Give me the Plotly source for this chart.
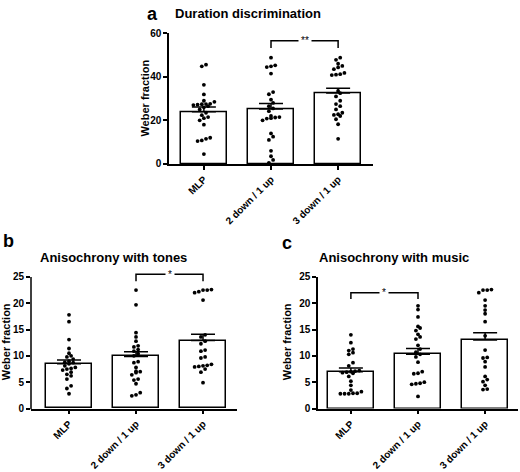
import plotly.graph_objects as go

# ---------------- data ----------------
categories = ["MLP", "2 down / 1 up", "3 down / 1 up"]

# Panel a: Duration discrimination
dur_mlp = [45.6, 44.8, 36.3, 31.9, 29.0, 28.5, 27.6, 27.5, 27.4, 27.2, 27.0, 26.5, 26.0,
           25.0, 23.5, 22.4, 21.5, 21.0, 20.0, 18.0, 12.0, 11.5, 10.8, 10.5, 4.5]
dur_2d = [48.8, 45.3, 44.8, 44.5, 41.5, 33.0, 32.0, 29.5, 28.0, 26.5, 25.5, 24.2, 22.0,
          21.5, 21.3, 21.0, 20.8, 20.0, 14.0, 12.5, 11.0, 6.0, 3.5, 1.8, 0.5]
dur_3d = [48.8, 47.8, 46.0, 45.0, 44.3, 43.5, 41.8, 41.2, 41.0, 40.8, 33.5, 32.5, 31.0,
          29.0, 27.5, 26.5, 25.0, 23.5, 22.8, 22.5, 22.0, 20.5, 18.2, 11.5]
dur_mean = [23.9, 25.2, 32.6]
dur_sem = [2.2, 2.6, 2.1]
dur_sig = {"from": 1, "to": 2, "level": 56.6, "drop": 3.4, "label": "**"}

# Panel b: Anisochrony with tones
ton_mlp = [17.8, 16.5, 13.1, 11.4, 10.5, 10.0, 9.8, 9.4, 9.0, 8.8, 8.7, 8.5, 8.1, 7.8,
           7.6, 7.5, 7.3, 6.9, 6.5, 6.2, 5.6, 4.3, 3.8, 2.8]
ton_2d = [22.5, 19.7, 14.4, 13.6, 12.8, 11.9, 11.7, 11.2, 10.9, 10.4, 10.0, 8.9, 8.7,
          7.8, 7.1, 7.0, 6.8, 6.4, 5.6, 5.4, 4.7, 3.0, 2.6, 2.4]
ton_3d = [22.6, 22.5, 22.5, 22.2, 22.0, 20.6, 14.0, 13.6, 12.8, 12.3, 11.1, 10.9, 9.8,
          9.6, 8.4, 8.2, 8.1, 8.0, 7.9, 7.5, 6.9, 4.9]
ton_mean = [8.5, 9.9, 12.9]
ton_sem = [0.7, 0.9, 1.2]
ton_sig = {"from": 1, "to": 2, "level": 25.5, "drop": 1.3, "label": "*"}

# Panel c: Anisochrony with music
mus_mlp = [14.0, 12.5, 11.3, 11.0, 10.6, 10.3, 8.7, 8.1, 7.2, 7.1, 7.0, 6.9, 6.8, 6.7,
           6.1, 5.2, 4.4, 3.5, 3.2, 2.9, 2.9, 2.8, 2.8, 2.8]
mus_2d = [19.5, 18.8, 17.4, 15.6, 15.3, 14.8, 14.1, 13.6, 13.2, 12.0, 11.3, 10.7, 10.3,
          9.8, 8.8, 7.0, 6.7, 6.6, 5.0, 4.8, 4.7, 4.6, 2.3]
mus_3d = [22.6, 22.5, 22.5, 22.0, 20.6, 19.5, 18.7, 18.0, 16.5, 13.8, 11.1, 9.7, 9.6,
          8.9, 7.9, 6.1, 5.5, 5.1, 4.4, 3.7, 3.6]
mus_mean = [7.0, 10.3, 13.0]
mus_sem = [0.7, 1.1, 1.4]
mus_sig = {"from": 0, "to": 1, "level": 22.0, "drop": 1.2, "label": "*"}

yticks_a = [0, 20, 40, 60]
yticks_bc = [0, 5, 10, 15, 20, 25]

# ---------------- layout constants ----------------
W, H = 520, 472
FONT = "Arial, Liberation Sans, sans-serif"
PX_PER_CAT = 67.0
DOT = 4.2


def swarm_offsets(values, px_per_unit):
    """Prism-like row swarm: points in the same row are spread symmetrically."""
    order = sorted(range(len(values)), key=lambda i: values[i])
    offs = [0.0] * len(values)
    rows = []
    for i in order:
        if rows and (values[i] - values[rows[-1][0]]) * px_per_unit < DOT * 0.8:
            rows[-1].append(i)
        else:
            rows.append([i])
    for row in rows:
        n = len(row)
        for k, i in enumerate(row):
            offs[i] = (k - (n - 1) / 2) * DOT / PX_PER_CAT
    return offs


fig = go.Figure()


def add_panel(n, groups, means, sems, sig, px_per_unit):
    xa = "x" if n == 1 else f"x{n}"
    ya = "y" if n == 1 else f"y{n}"
    fig.add_trace(go.Bar(
        x=[0, 1, 2], y=means, width=0.68, xaxis=xa, yaxis=ya,
        marker=dict(color="white", line=dict(color="black", width=1.5)),
        error_y=dict(type="data", array=sems, arrayminus=[0, 0, 0], symmetric=False,
                     color="black", thickness=1.5, width=12),
        showlegend=False, hoverinfo="skip"))
    for gi, vals in enumerate(groups):
        offs = swarm_offsets(vals, px_per_unit)
        fig.add_trace(go.Scatter(
            x=[gi + o for o in offs], y=vals, mode="markers", xaxis=xa, yaxis=ya,
            marker=dict(color="black", size=3.8), cliponaxis=False,
            showlegend=False, hoverinfo="skip"))
    a, b, lv, dr = sig["from"], sig["to"], sig["level"], sig["drop"]
    fig.add_trace(go.Scatter(
        x=[a, a, b, b], y=[lv - dr, lv, lv, lv - dr], mode="lines", xaxis=xa, yaxis=ya,
        line=dict(color="black", width=1.5), showlegend=False, hoverinfo="skip"))
    fig.add_annotation(x=(a + b) / 2, y=lv, xref=xa, yref=ya, text=sig["label"],
                       showarrow=False, bgcolor="white", borderpad=2,
                       font=dict(size=10, family=FONT, color="black"))


add_panel(1, [dur_mlp, dur_2d, dur_3d], dur_mean, dur_sem, dur_sig, 134 / 60)
add_panel(2, [ton_mlp, ton_2d, ton_3d], ton_mean, ton_sem, ton_sig, 135 / 25)
add_panel(3, [mus_mlp, mus_2d, mus_3d], mus_mean, mus_sem, mus_sig, 135 / 25)


def px_x(p):
    return p / W


def px_y(p):
    return 1 - p / H


xcommon = dict(tickvals=[0, 1, 2], ticktext=categories, tickangle=-45,
               showline=True, linewidth=1.5, linecolor="black", ticks="outside",
               ticklen=4, tickwidth=1.5, tickcolor="black", showgrid=False,
               zeroline=False, fixedrange=True,
               tickfont=dict(size=10, family=FONT, color="black", weight="bold"))
ycommon = dict(showline=True, linewidth=1.5, linecolor="black", ticks="outside",
               ticklen=4, tickwidth=1.5, tickcolor="black", showgrid=False,
               zeroline=False, fixedrange=True,
               tickfont=dict(size=10, family=FONT, color="black", weight="bold"))

# panel b range extended above 25 so the bracket shows; axis line drawn as shape
b_top = 26.3
b_top_px = 413 - b_top * 135 / 25

fig.update_layout(
    width=W, height=H, margin=dict(l=0, r=0, t=0, b=0),
    paper_bgcolor="white", plot_bgcolor="white",
    font=dict(family=FONT, color="black"),
    bargap=0,
    xaxis=dict(xcommon, domain=[px_x(169), px_x(373)], range=[-0.52, 2.52], anchor="y"),
    yaxis=dict(ycommon, domain=[px_y(162), px_y(28)], range=[0, 60], tickvals=yticks_a,
               anchor="x"),
    xaxis2=dict(xcommon, domain=[px_x(31), px_x(237)], range=[-0.567, 2.507], anchor="y2"),
    yaxis2=dict(ycommon, domain=[px_y(413), px_y(b_top_px)], range=[0, b_top],
                tickvals=yticks_bc, anchor="x2", showline=False),
    xaxis3=dict(xcommon, domain=[px_x(318), px_x(518)], range=[-0.49, 2.49], anchor="y3"),
    yaxis3=dict(ycommon, domain=[px_y(413), px_y(278)], range=[0, 25], tickvals=yticks_bc,
                anchor="x3"),
)

# y axis line of panel b (from 0 to 25 only)
fig.add_shape(type="line", xref="paper", yref="paper",
              x0=px_x(31), x1=px_x(31), y0=px_y(413.7), y1=px_y(278),
              line=dict(color="black", width=1.5))

ann = [
    ("a", 152, 8, 18, 0), ("b", 8, 241, 18, 0), ("c", 287, 243, 18, 0),
    ("Duration discrimination", 248, 8, 13, 0),
    ("Anisochrony with tones", 113, 258, 13, 0),
    ("Anisochrony with music", 394, 258, 13, 0),
    ("Weber fraction", 145, 95, 11, -90),
    ("Weber fraction", 6, 345, 11, -90),
    ("Weber fraction", 287, 345, 11, -90),
]
for txt, x, y, s, ang in ann:
    fig.add_annotation(x=px_x(x), y=px_y(y), xref="paper", yref="paper", text=txt,
                       showarrow=False, textangle=ang, xanchor="center", yanchor="middle",
                       font=dict(size=s, family=FONT, color="black", weight="bold"))

fig.write_html("out.html", config={"displayModeBar": False},
               post_script="document.body.style.margin='0';document.body.style.overflow='hidden';")
